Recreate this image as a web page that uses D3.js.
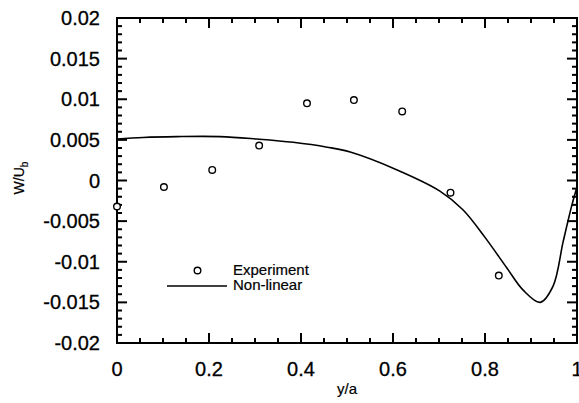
<!DOCTYPE html>
<html>
<head>
<meta charset="utf-8">
<script src="https://cdn.jsdelivr.net/npm/d3@7"></script>
<style>
  body { margin: 0; background: #fff; }
  svg { display: block; font-family: "Liberation Sans", Arial, sans-serif; }
</style>
</head>
<body>
<div id="chart"></div>
<script>
// tick values and labels
var xTicks = [0, 0.2, 0.4, 0.6, 0.8, 1];
var xTickLabels = ["0", "0.2", "0.4", "0.6", "0.8", "1"];
var yTicks = [-0.02, -0.015, -0.01, -0.005, 0, 0.005, 0.01, 0.015, 0.02];
var yTickLabels = ["-0.02", "-0.015", "-0.01", "-0.005", "0", "0.005", "0.01", "0.015", "0.02"];

// experiment (circles)
var expY = [0, 0.102, 0.207, 0.309, 0.413, 0.515, 0.62, 0.725, 0.83];
var expW = [-0.0032, -0.0008, 0.0013, 0.0043, 0.0095, 0.0099, 0.0085, -0.0015, -0.0117];

// non-linear model (line)
var modelY = [0, 0.057, 0.13, 0.224, 0.304, 0.383, 0.457, 0.507, 0.609, 0.702, 0.752,
	0.8, 0.848, 0.883, 0.92, 0.948, 0.97, 0.989, 1.0];
var modelW = [0.0051, 0.0053, 0.0054, 0.0054, 0.0051, 0.0047, 0.0041, 0.0035, 0.0013, -0.0013, -0.0036,
	-0.0070, -0.0108, -0.0135, -0.0150, -0.0130, -0.0075, -0.0030, -0.0008];

var width = 579, height = 403;
var plotLeft = 117, plotRight = 577, plotTop = 18, plotBottom = 343;

var svg = d3.select("#chart").append("svg")
	.attr("width", width)
	.attr("height", height);

var x = d3.scaleLinear().domain([0, 1]).range([plotLeft, plotRight]);
var y = d3.scaleLinear().domain([-0.02, 0.02]).range([plotBottom, plotTop]);

var xMinor = d3.range(0, 1.0001, 0.05).filter(function(v) { return Math.abs(v / 0.2 - Math.round(v / 0.2)) > 1e-6; });
var yMinor = d3.range(-0.02, 0.02001, 0.001).filter(function(v) { return Math.abs(v / 0.005 - Math.round(v / 0.005)) > 1e-6; });

// frame
svg.append("rect")
	.attr("x", plotLeft).attr("y", plotTop)
	.attr("width", plotRight - plotLeft).attr("height", plotBottom - plotTop)
	.attr("fill", "none").attr("stroke", "#000").attr("stroke-width", 2);

// inward ticks on all four sides
var ticks = svg.append("g").attr("stroke", "#000").attr("stroke-width", 2);

function xTickMarks(values, len) {
	ticks.append("g").selectAll("line").data(values).enter().append("line")
		.attr("x1", function(d) { return x(d); }).attr("x2", function(d) { return x(d); })
		.attr("y1", plotBottom).attr("y2", plotBottom - len);
	ticks.append("g").selectAll("line").data(values).enter().append("line")
		.attr("x1", function(d) { return x(d); }).attr("x2", function(d) { return x(d); })
		.attr("y1", plotTop).attr("y2", plotTop + len);
}
function yTickMarks(values, len) {
	ticks.append("g").selectAll("line").data(values).enter().append("line")
		.attr("y1", function(d) { return y(d); }).attr("y2", function(d) { return y(d); })
		.attr("x1", plotLeft).attr("x2", plotLeft + len);
	ticks.append("g").selectAll("line").data(values).enter().append("line")
		.attr("y1", function(d) { return y(d); }).attr("y2", function(d) { return y(d); })
		.attr("x1", plotRight).attr("x2", plotRight - len);
}
xTickMarks(xTicks, 10);
xTickMarks(xMinor, 5);
yTickMarks(yTicks, 10);
yTickMarks(yMinor, 5);

// tick labels
var labels = svg.append("g").attr("font-size", 20).attr("fill", "#000")
	.style("stroke", "#000").style("stroke-width", 0.3);
labels.append("g").selectAll("text").data(xTicks).enter().append("text")
	.attr("x", function(d) { return x(d); })
	.attr("y", 376)
	.attr("text-anchor", "middle")
	.text(function(d, i) { return xTickLabels[i]; });
labels.append("g").selectAll("text").data(yTicks).enter().append("text")
	.attr("x", 100)
	.attr("y", function(d) { return y(d); })
	.attr("dy", "0.35em")
	.attr("text-anchor", "end")
	.text(function(d, i) { return yTickLabels[i]; });

// model line
var line = d3.line()
	.x(function(d) { return x(d[0]); })
	.y(function(d) { return y(d[1]); })
	.curve(d3.curveCatmullRom);

svg.append("path")
	.datum(d3.zip(modelY, modelW))
	.attr("d", line)
	.attr("fill", "none")
	.attr("stroke", "#000")
	.attr("stroke-width", 1.6);

// experiment circles
svg.append("g").selectAll("circle")
	.data(d3.zip(expY, expW))
	.enter().append("circle")
	.attr("cx", function(d) { return x(d[0]); })
	.attr("cy", function(d) { return y(d[1]); })
	.attr("r", 3.3)
	.attr("fill", "#fff")
	.attr("stroke", "#000")
	.attr("stroke-width", 1.4);

// legend
var legend = svg.append("g").attr("font-size", 15).attr("fill", "#000");
legend.append("circle")
	.attr("cx", 197.5).attr("cy", 270.5).attr("r", 3.3)
	.attr("fill", "#fff").attr("stroke", "#000").attr("stroke-width", 1.4);
legend.append("text").attr("x", 233).attr("y", 275)
	.style("stroke", "#000").style("stroke-width", 0.2).text("Experiment");
legend.append("line")
	.attr("x1", 167).attr("x2", 227).attr("y1", 286).attr("y2", 286)
	.attr("stroke", "#000").attr("stroke-width", 1.4);
legend.append("text").attr("x", 233).attr("y", 290)
	.style("stroke", "#000").style("stroke-width", 0.2).text("Non-linear");

// axis titles
svg.append("text")
	.attr("x", 347).attr("y", 394)
	.attr("text-anchor", "middle")
	.attr("font-size", 15)
	.style("stroke", "#000").style("stroke-width", 0.2)
	.text("y/a");

var yTitle = svg.append("text")
	.attr("transform", "translate(24,178) rotate(-90)")
	.attr("text-anchor", "middle")
	.attr("font-size", 14)
	.style("stroke", "#000").style("stroke-width", 0.2);
yTitle.append("tspan").text("W/U");
yTitle.append("tspan").attr("font-size", 10).attr("dy", 4).text("b");
</script>
</body>
</html>
